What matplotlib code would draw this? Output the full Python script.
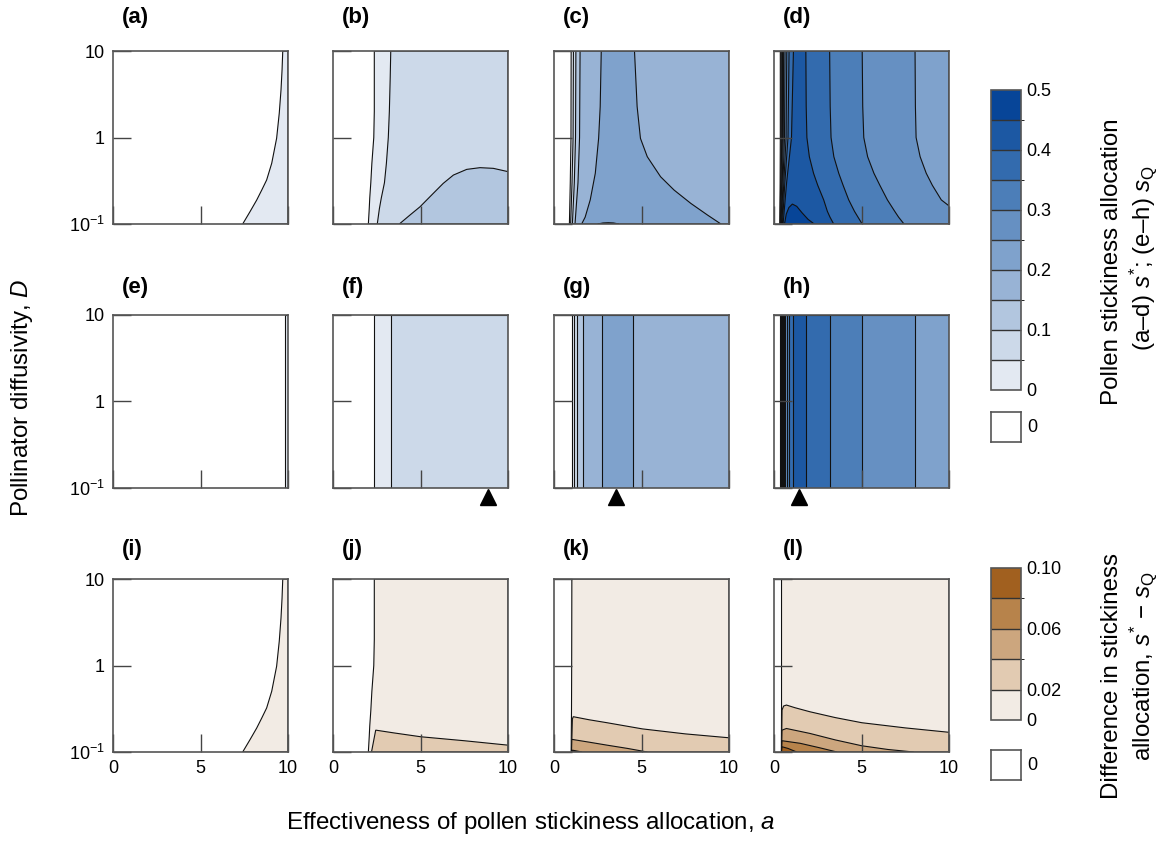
import numpy as np
import matplotlib
matplotlib.use("Agg")
import matplotlib.pyplot as plt
import matplotlib as mpl
from matplotlib.colors import ListedColormap, BoundaryNorm

plt.rcParams['font.family'] = ['Liberation Sans', 'DejaVu Sans']
plt.rcParams['mathtext.fontset'] = 'custom'
plt.rcParams['mathtext.rm'] = 'Liberation Sans'
plt.rcParams['mathtext.it'] = 'Liberation Sans:italic'
plt.rcParams['mathtext.bf'] = 'Liberation Sans:bold'

# ---------------- colour scales ----------------
blue_levels = [0, 0.05, 0.1, 0.15, 0.2, 0.25, 0.3, 0.35, 0.4, 0.45, 0.5]
blue_colors = ['#e3e9f2', '#ccd9e9', '#b2c6df', '#98b3d5', '#7fa2cc',
               '#6690c2', '#4c7eb8', '#336bae', '#1c58a3', '#074598']
blue_ticks = [0, 0.1, 0.2, 0.3, 0.4, 0.5]
blue_ticklabels = ['0', '0.1', '0.2', '0.3', '0.4', '0.5']
brown_levels = [0, 0.02, 0.04, 0.06, 0.08, 0.10]
brown_colors = ['#f2ebe4', '#e2cbb2', '#cca67e', '#b7834b', '#a1601f']
brown_ticks = [0, 0.02, 0.06, 0.10]
brown_ticklabels = ['0', '0.02', '0.06', '0.10']

# ---------------- contour boundaries ----------------
# (a)/(i): boundary of the s* = 0 region
thr_D = [0.1, 0.139, 0.189, 0.247, 0.323, 0.504, 0.98, 1.905, 3.54, 6.03, 10]
thr_a = [7.41, 7.83, 8.21, 8.50, 8.78, 9.07, 9.35, 9.50, 9.60, 9.66, 9.70]

# (b)/(j)
b0_D = [0.1, 0.15, 0.2, 0.3, 0.5, 1, 2, 5, 10]
b0_a = [2.02, 2.07, 2.10, 2.16, 2.22, 2.33, 2.36, 2.36, 2.36]
b1_D = [0.1, 0.15, 0.2, 0.3, 0.5, 1, 2, 5, 10]
b1_a = [2.53, 2.65, 2.76, 2.94, 3.05, 3.16, 3.22, 3.27, 3.30]
b2_a = [3.79, 4.40, 4.97, 5.73, 6.30, 6.88, 7.64, 8.40, 9.16, 10.0]
b2_D = [0.10, 0.127, 0.158, 0.226, 0.295, 0.368, 0.428, 0.448, 0.440, 0.403]

# (c)
D4 = [0.1, 0.3, 1, 10]
c0_a = [0.88, 0.93, 0.97, 0.98]
c1_a = [0.95, 1.03, 1.09, 1.11]
c2_a = [1.05, 1.16, 1.23, 1.25]
c3_a = [1.20, 1.37, 1.46, 1.49]
c4L_D = [0.1, 0.12, 0.19, 0.386, 0.98, 2.28, 10]
c4L_a = [1.58, 1.78, 2.07, 2.36, 2.55, 2.64, 2.70]
c4R_D = [0.1, 0.127, 0.173, 0.247, 0.352, 0.6, 0.977, 2.28, 10]
c4R_a = [9.54, 8.77, 7.82, 6.86, 6.09, 5.33, 4.94, 4.75, 4.60]
c5_a = [2.5, 2.8, 3.1, 3.4, 3.7]
c5_D = [0.1, 0.1028, 0.1035, 0.1028, 0.1]

# (d)
d_left_a = [[0.33, 0.35, 0.36, 0.36],
            [0.35, 0.38, 0.40, 0.40],
            [0.37, 0.41, 0.44, 0.44],
            [0.39, 0.44, 0.48, 0.49],
            [0.41, 0.47, 0.53, 0.55],
            [0.43, 0.51, 0.60, 0.63],
            [0.45, 0.56, 0.69, 0.73],
            [0.48, 0.62, 0.80, 0.86],
            [0.52, 0.72, 1.00, 1.11]]
dR_D = [0.1, 0.12, 0.14, 0.19, 0.28, 0.386, 0.6, 1, 2.3, 10]
d40R_a = [3.41, 3.20, 3.05, 2.84, 2.50, 2.26, 2.02, 1.88, 1.84, 1.82]
d35R_a = [5.04, 4.80, 4.60, 4.27, 3.95, 3.70, 3.42, 3.26, 3.21, 3.18]
d30R_a = [7.43, 7.12, 6.90, 6.48, 6.05, 5.71, 5.35, 5.13, 5.07, 5.04]
d25R_D = [0.1, 0.162, 0.19, 0.28, 0.386, 0.6, 1, 2.3, 10]
d25R_a = [10.0, 10.0, 9.56, 9.05, 8.70, 8.35, 8.12, 8.08, 8.06]
d45_a = [0.60, 0.70, 0.85, 1.05, 1.30, 1.60, 1.95, 2.30]
d45_D = [0.10, 0.13, 0.155, 0.17, 0.16, 0.135, 0.113, 0.10]

# (e)-(h): s_Q does not depend on D
e_left = [9.83]
f_left = [2.36, 3.30]
g_left = [1.00, 1.17, 1.34, 1.63, 2.76]
g_right = {4: 4.52}
h_left = [0.36, 0.40, 0.44, 0.49, 0.55, 0.63, 0.73, 0.86, 1.11]
h_right = {5: 8.06, 6: 5.04, 7: 3.18, 8: 1.82}
triangle_a = {'f': 8.84, 'g': 3.56, 'h': 1.45}

# (j)-(l): difference s* - s_Q
j1_a = [2.20, 2.44, 3.50, 5.02, 7.50, 10.0]
j1_D = [0.10, 0.179, 0.166, 0.150, 0.135, 0.120]
k0_a = [0.98, 1.00, 1.01, 1.02]
k1_a = [1.00, 1.05, 1.10, 2.00, 3.03, 5.05, 7.50, 10.0]
k1_D = [0.10, 0.24, 0.256, 0.236, 0.218, 0.185, 0.162, 0.146]
k2_a = [1.00, 1.02, 2.00, 3.03, 4.20, 5.33]
k2_D = [0.10, 0.140, 0.130, 0.120, 0.110, 0.10]
k3_a = [1.00, 1.05, 1.60]
k3_D = [0.10, 0.105, 0.10]
l0_a = [0.42, 0.43, 0.43, 0.43]
l1_a = [0.43, 0.46, 0.55, 0.71, 1.20, 2.05, 3.50, 5.02, 7.50, 10.0]
l1_D = [0.10, 0.306, 0.340, 0.349, 0.325, 0.292, 0.250, 0.218, 0.190, 0.169]
l2_a = [0.43, 0.46, 0.71, 2.05, 3.50, 5.02, 6.50, 7.98]
l2_D = [0.10, 0.179, 0.187, 0.164, 0.138, 0.118, 0.107, 0.10]
l3_a = [0.43, 0.46, 1.50, 2.60, 3.60]
l3_D = [0.10, 0.135, 0.126, 0.112, 0.10]
l4_a = [0.43, 0.46, 0.80, 1.30]
l4_D = [0.10, 0.115, 0.110, 0.10]

panel_letters = list('abcdefghijkl')

# ---------------- layout ----------------
W, H = 1164, 841
fig = plt.figure(figsize=(W / 100, H / 100), dpi=100)


def rect(left, top, w, h):
    return [left / W, 1 - (top + h) / H, w / W, h / H]


col_left = [113, 333, 554, 774]
row_top = [51, 315, 579]
label_y = [18, 287, 550]
pw, ph = 175, 173
LINE = dict(edgecolor='#111111', linewidth=0.8, zorder=1)


def band_lr(ax, color, Dl, al, Dr=None, ar=None):
    # region between a left curve and a right curve (or the right edge)
    xs = list(al)
    ys = list(Dl)
    if ar is None:
        xs += [10, 10]
        ys += [10, 0.1]
    else:
        xs += list(ar)[::-1]
        ys += list(Dr)[::-1]
    ax.fill(xs, ys, facecolor=color, **LINE)


def band_under(ax, color, a, D):
    # region under a curve D(a), closed along the bottom edge
    xs = list(a) + [a[-1], a[0]]
    ys = list(D) + [0.1, 0.1]
    ax.fill(xs, ys, facecolor=color, **LINE)


axes = {}
for r in range(3):
    for c in range(4):
        ax = fig.add_axes(rect(col_left[c], row_top[r], pw, ph))
        ax.set_xlim(0, 10)
        ax.set_yscale('log')
        ax.set_ylim(0.1, 10)
        ax.set_xticks([0, 5, 10])
        ax.set_yticks([0.1, 1, 10])
        ax.minorticks_off()
        ax.tick_params(direction='in', length=13, width=1.0, color='#444444',
                       labelsize=13, pad=6)
        if c == 0:
            ax.set_yticklabels([r'$10^{-1}$', '1', '10'])
        else:
            ax.set_yticklabels([])
        if r == 2:
            ax.set_xticklabels(['0', '5', '10'])
        else:
            ax.set_xticklabels([])
        for s in ax.spines.values():
            s.set_color('#555555')
            s.set_linewidth(1.2)
            s.set_zorder(3)
        ax.set_axisbelow(False)
        letter = panel_letters[r * 4 + c]
        fig.text((col_left[c] + 9) / W, 1 - label_y[r] / H, f'({letter})',
                 fontsize=16, fontweight='bold', ha='left', va='center')
        axes[letter] = ax

B = blue_colors
# (a)
band_lr(axes['a'], B[0], thr_D, thr_a)
# (b)
band_lr(axes['b'], B[0], b0_D, b0_a)
band_lr(axes['b'], B[1], b1_D, b1_a)
band_under(axes['b'], B[2], b2_a, b2_D)
# (c)
for k, al in enumerate([c0_a, c1_a, c2_a, c3_a]):
    band_lr(axes['c'], B[k], D4, al)
band_lr(axes['c'], B[4], c4L_D, c4L_a, c4R_D, c4R_a)
band_under(axes['c'], B[5], c5_a, c5_D)
# (d)
d_right = {5: (d25R_D, d25R_a), 6: (dR_D, d30R_a), 7: (dR_D, d35R_a), 8: (dR_D, d40R_a)}
for k, al in enumerate(d_left_a):
    if k in d_right:
        band_lr(axes['d'], B[k], D4, al, *d_right[k])
    else:
        band_lr(axes['d'], B[k], D4, al)
band_under(axes['d'], B[9], d45_a, d45_D)

# (e)-(h)
for letter, lefts, rights in [('e', e_left, {}), ('f', f_left, {}),
                              ('g', g_left, g_right), ('h', h_left, h_right)]:
    ax = axes[letter]
    for k, al in enumerate(lefts):
        if k in rights:
            band_lr(ax, B[k], [0.1, 10], [al, al], [0.1, 10], [rights[k], rights[k]])
        else:
            band_lr(ax, B[k], [0.1, 10], [al, al])
for letter, xa in triangle_a.items():
    axes[letter].plot([xa], [-0.05], marker='^', color='k', markersize=12,
                      transform=axes[letter].get_xaxis_transform(), clip_on=False,
                      zorder=5)

Br = brown_colors
# (i)
band_lr(axes['i'], Br[0], thr_D, thr_a)
# (j)
band_lr(axes['j'], Br[0], b0_D, b0_a)
band_under(axes['j'], Br[1], j1_a, j1_D)
# (k)
band_lr(axes['k'], Br[0], D4, k0_a)
band_under(axes['k'], Br[1], k1_a, k1_D)
band_under(axes['k'], Br[2], k2_a, k2_D)
band_under(axes['k'], Br[3], k3_a, k3_D)
# (l)
band_lr(axes['l'], Br[0], D4, l0_a)
band_under(axes['l'], Br[1], l1_a, l1_D)
band_under(axes['l'], Br[2], l2_a, l2_D)
band_under(axes['l'], Br[3], l3_a, l3_D)
band_under(axes['l'], Br[4], l4_a, l4_D)

# ---------------- colour bars ----------------
def colorbar(levels, colors, ticks, labels, r):
    cax = fig.add_axes(rect(*r))
    cmap = ListedColormap(colors)
    norm = BoundaryNorm(levels, cmap.N)
    cb = mpl.colorbar.ColorbarBase(cax, cmap=cmap, norm=norm, boundaries=levels,
                                   ticks=ticks, drawedges=True)
    cb.set_ticks(ticks, labels=labels)
    cb.ax.tick_params(length=0, labelsize=13, pad=4)
    cb.outline.set_edgecolor('#555555')
    cb.outline.set_linewidth(1.2)
    cb.dividers.set_color('#333333')
    cb.dividers.set_linewidth(1.0)
    return cb


def whitebox(r):
    bax = fig.add_axes(rect(*r))
    bax.set_xticks([])
    bax.set_yticks([])
    for s in bax.spines.values():
        s.set_color('#555555')
        s.set_linewidth(1.2)
    bax.text(1.22, 0.5, '0', transform=bax.transAxes, fontsize=13,
             ha='left', va='center')


colorbar(blue_levels, blue_colors, blue_ticks, blue_ticklabels, (991, 90, 30, 300))
whitebox((991, 412, 30, 30))
colorbar(brown_levels, brown_colors, brown_ticks, brown_ticklabels, (991, 568, 30, 152))
whitebox((991, 750, 30, 30))

LAB = 17.4
fig.text(1112 / W, 1 - 262 / H, 'Pollen stickiness allocation', rotation=90,
         fontsize=LAB, ha='center', va='center')
fig.text(1143 / W, 1 - 258 / H, r'(a–d) $s^{*}$; (e–h) $s_{\mathrm{Q}}$',
         rotation=90, fontsize=LAB, ha='center', va='center')
fig.text(1112 / W, 1 - 676 / H, 'Difference in stickiness', rotation=90,
         fontsize=LAB, ha='center', va='center')
fig.text(1143 / W, 1 - 666 / H, r'allocation, $s^{*}$ − $s_{\mathrm{Q}}$',
         rotation=90, fontsize=LAB, ha='center', va='center')

fig.text(22 / W, 1 - 398 / H, r'Pollinator diffusivity, $D$', rotation=90,
         fontsize=LAB, ha='center', va='center')
fig.text(531 / W, 1 - 823 / H, r'Effectiveness of pollen stickiness allocation, $a$',
         fontsize=LAB, ha='center', va='center')

fig.savefig('out.png', dpi=100)
